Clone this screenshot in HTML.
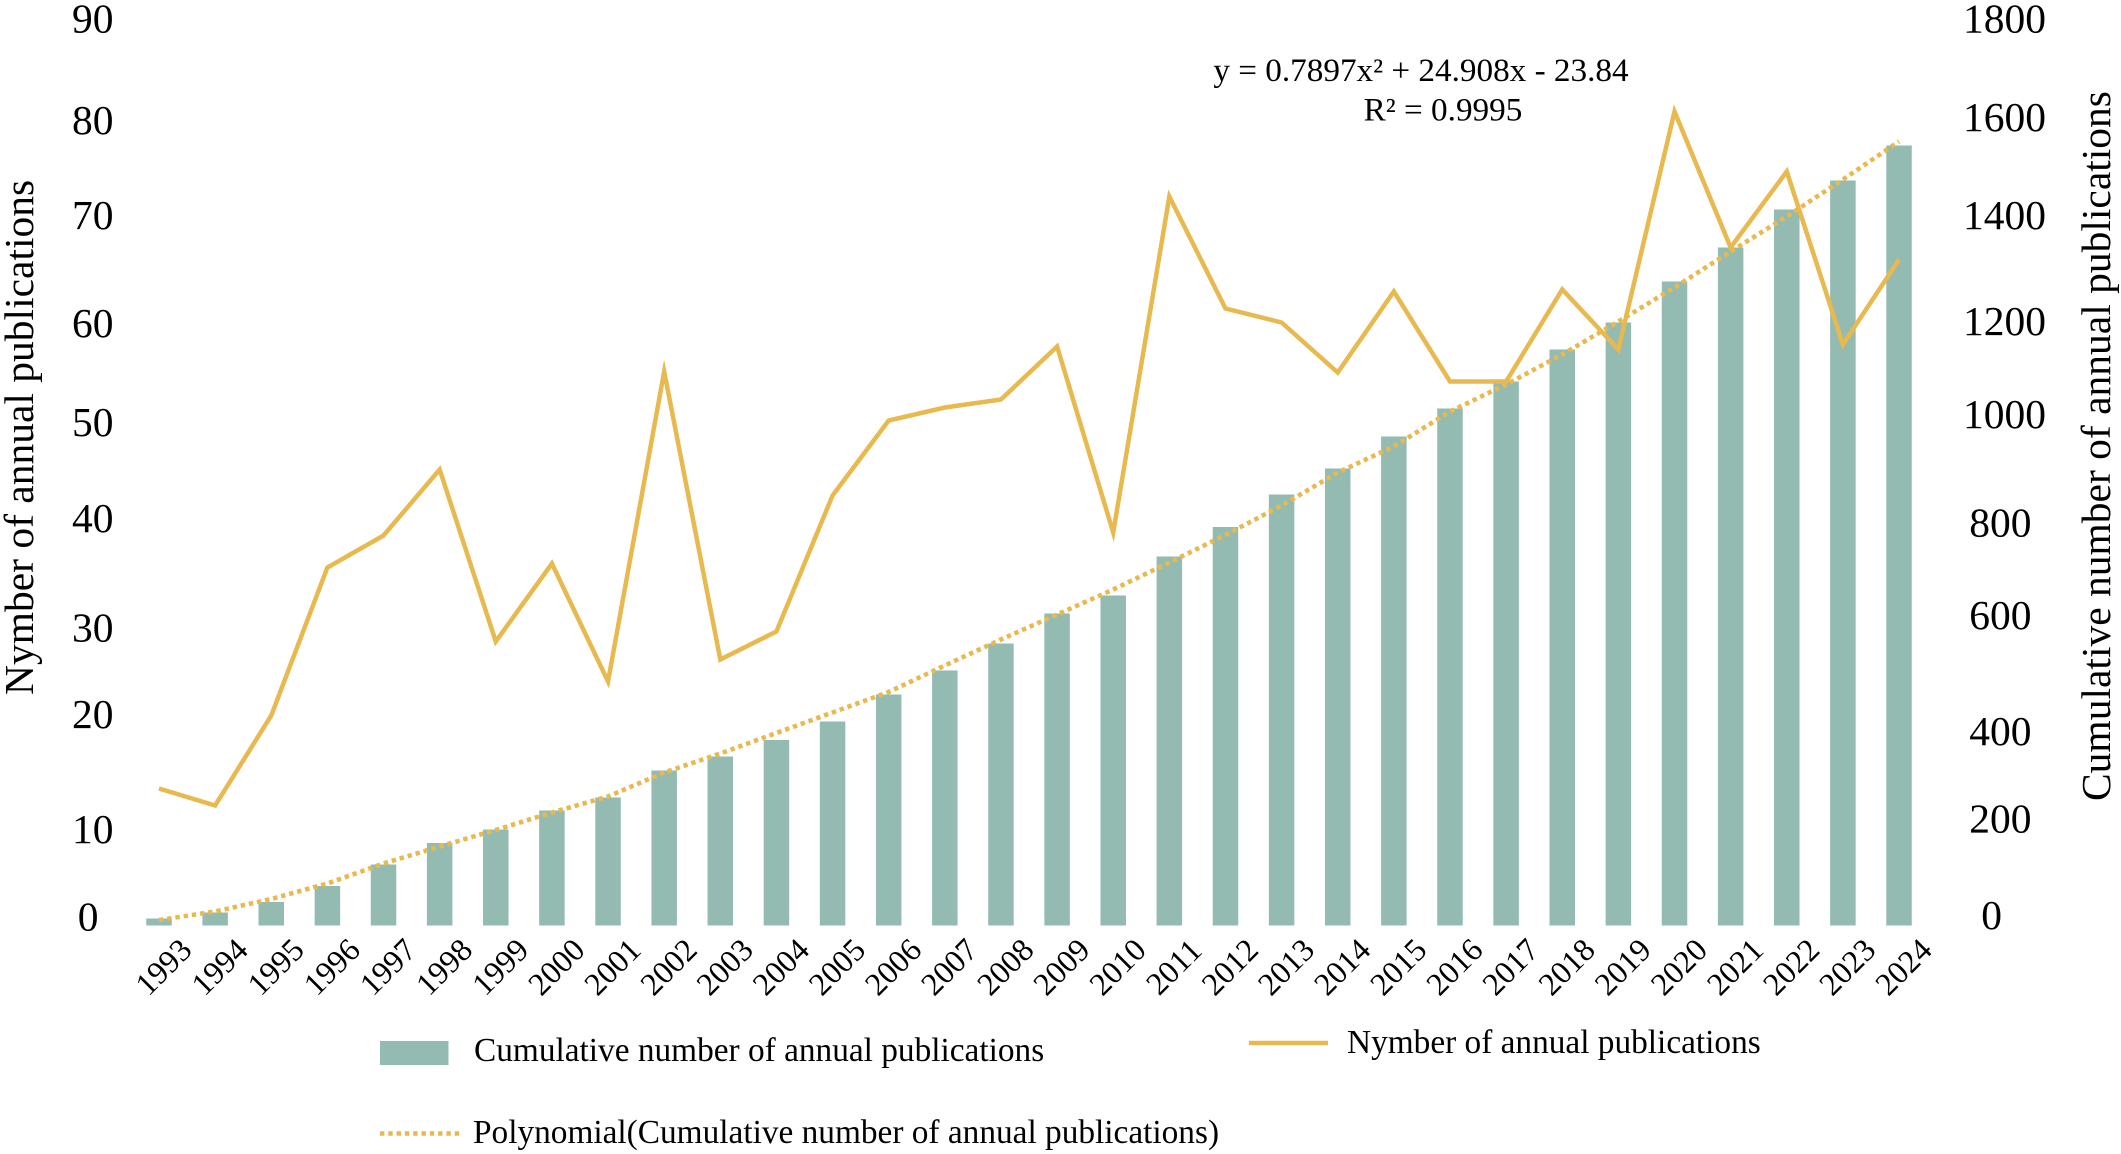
<!DOCTYPE html>
<html lang="en">
<head>
<meta charset="utf-8">
<title>Annual and cumulative publications</title>
<style>
html,body{margin:0;padding:0;background:#fff;}
svg{display:block;}
text{font-family:"Liberation Serif",serif;fill:#000;}
.tick{font-size:41.5px;}
.title{font-size:41.5px;}
.leg{font-size:33.35px;}
.eq{font-size:33.2px;}
.year{font-size:32px;}
</style>
</head>
<body>
<svg id="chart" width="2121" height="1154" viewBox="0 0 2121 1154" xmlns="http://www.w3.org/2000/svg">
  <rect width="2121" height="1154" fill="#ffffff"/>
  <g id="bars"></g>
  <g id="trend"></g>
  <g id="line"></g>
  <g id="xlabels"></g>

  <g text-anchor="end">
    <text class="tick" x="113.5" y="32.5">90</text>
    <text class="tick" x="113.5" y="134">80</text>
    <text class="tick" x="113.5" y="229">70</text>
    <text class="tick" x="113.5" y="337">60</text>
    <text class="tick" x="113.5" y="436">50</text>
    <text class="tick" x="113.5" y="532">40</text>
    <text class="tick" x="113.5" y="641.5">30</text>
    <text class="tick" x="113.5" y="728">20</text>
    <text class="tick" x="113.5" y="843">10</text>
    <text class="tick" x="98.5" y="930.5">0</text>
  </g>
  <g text-anchor="end">
    <text class="tick" x="2046" y="32.5">1800</text>
    <text class="tick" x="2046" y="131">1600</text>
    <text class="tick" x="2046" y="229">1400</text>
    <text class="tick" x="2046" y="335">1200</text>
    <text class="tick" x="2046" y="428">1000</text>
    <text class="tick" x="2031.5" y="536.5">800</text>
    <text class="tick" x="2031.5" y="629">600</text>
    <text class="tick" x="2031.5" y="745">400</text>
    <text class="tick" x="2031.5" y="832.5">200</text>
    <text class="tick" x="2002" y="929">0</text>
  </g>

  <text class="title" transform="translate(33,695) rotate(-90)">Nymber of annual publications</text>
  <text class="title" transform="translate(2110,801) rotate(-90)">Cumulative number of annual publications</text>

  <text class="eq" x="1421" y="81" text-anchor="middle">y = 0.7897x² + 24.908x - 23.84</text>
  <text class="eq" x="1443" y="120.5" text-anchor="middle">R² = 0.9995</text>

  <g>
    <rect x="380" y="1041" width="68.5" height="24" fill="#93bbb2"/>
    <text class="leg" x="474" y="1061">Cumulative number of annual publications</text>
    <line x1="1249" x2="1328" y1="1043" y2="1043" stroke="#e8b94f" stroke-width="4.4"/>
    <text class="leg" x="1347" y="1053">Nymber of annual publications</text>
    <line x1="380" x2="460" y1="1133.5" y2="1133.5" stroke="#e8b94f" stroke-width="4.6" stroke-dasharray="4.4 3.9"/>
    <text class="leg" x="473" y="1143">Polynomial(Cumulative number of annual publications)</text>
  </g>
</svg>
<script>
const years = [1993,1994,1995,1996,1997,1998,1999,2000,2001,2002,2003,2004,2005,2006,2007,2008,2009,2010,2011,2012,2013,2014,2015,2016,2017,2018,2019,2020,2021,2022,2023,2024];
const cumulativeValues = [14,26,47,79,122,165,192,230,256,310,338,371,408,462,510,564,624,660,738,797,862,914,978,1034,1088,1152,1206,1288,1356,1432,1490,1560];
const annualValues = [13.7,12,21,35.8,39,45.6,28.4,36.2,24.4,55.4,26.6,29.4,43,50.5,51.8,52.6,57.9,39.3,72.9,61.7,60.3,55.3,63.4,54.4,54.4,63.6,57.6,81.4,67.8,75.4,58.1,66.6];
const trendValues = [11,28,53,84,124,158,191,226,258,306,344,385,426,467,520,572,622,672,726,781,840,906,958,1028,1082,1142,1208,1276,1348,1418,1492,1568];

const SVG_NS = 'http://www.w3.org/2000/svg';
const plotLeft = 159, plotStep = 56.13, plotBase = 925.5, barWidth = 25.5;
function xAxis(i) { return plotLeft + i * plotStep; }
function yLeft(v) { return plotBase - v * 10; }
function yRight(v) { return plotBase - v * 0.5; }

const barsGroup = document.getElementById('bars');
cumulativeValues.forEach(function (v, i) {
  const r = document.createElementNS(SVG_NS, 'rect');
  r.setAttribute('x', xAxis(i) - barWidth / 2);
  r.setAttribute('y', yRight(v));
  r.setAttribute('width', barWidth);
  r.setAttribute('height', plotBase - yRight(v));
  r.setAttribute('fill', '#93bbb2');
  
  
  barsGroup.appendChild(r);
});

const trendPath = document.createElementNS(SVG_NS, 'polyline');
trendPath.setAttribute('points', trendValues.map(function (v, i) { return xAxis(i) + ',' + yRight(v); }).join(' '));
trendPath.setAttribute('fill', 'none');
trendPath.setAttribute('stroke', '#e8b94f');
trendPath.setAttribute('stroke-width', '4.6');
trendPath.setAttribute('stroke-dasharray', '4.4 3.9');


document.getElementById('trend').appendChild(trendPath);

const annualPath = document.createElementNS(SVG_NS, 'polyline');
annualPath.setAttribute('points', annualValues.map(function (v, i) { return xAxis(i) + ',' + yLeft(v); }).join(' '));
annualPath.setAttribute('fill', 'none');
annualPath.setAttribute('stroke', '#e8b94f');
annualPath.setAttribute('stroke-width', '4.5');
annualPath.setAttribute('stroke-linejoin', 'miter');
annualPath.setAttribute('stroke-miterlimit', '12');


document.getElementById('line').appendChild(annualPath);

const xGroup = document.getElementById('xlabels');
years.forEach(function (yr, i) {
  const t = document.createElementNS(SVG_NS, 'text');
  const cx = xAxis(i) + 4.5;
  const cy = 967;
  t.setAttribute('class', 'year');
  t.setAttribute('text-anchor', 'middle');
  t.setAttribute('dy', '0.33em');
  t.setAttribute('transform', 'translate(' + cx + ',' + cy + ') rotate(-45)');
  
  
  t.textContent = yr;
  xGroup.appendChild(t);
});
</script>
</body>
</html>
